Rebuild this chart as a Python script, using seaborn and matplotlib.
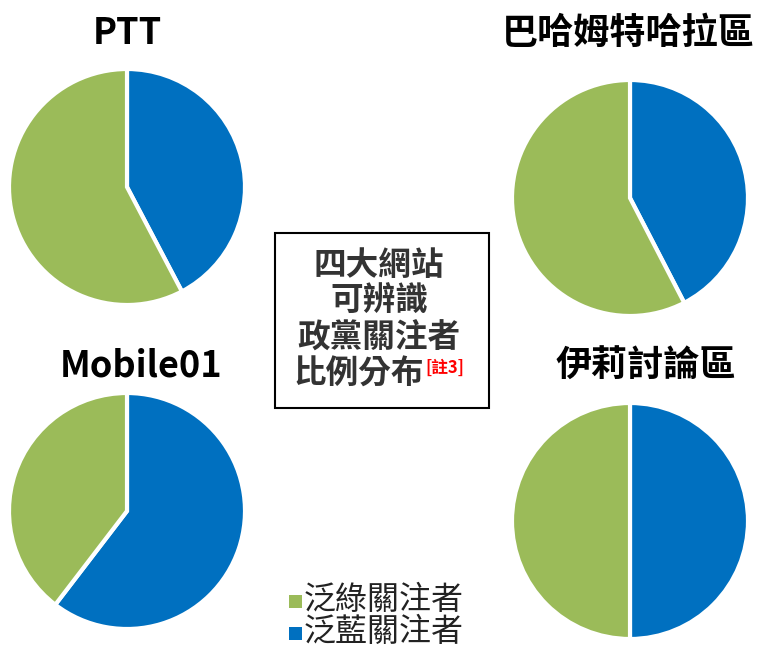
import matplotlib
matplotlib.use("Agg")
import matplotlib.pyplot as plt
import seaborn as sns
from matplotlib.patches import Rectangle

sns.set_theme(style="white")
plt.rcParams['font.family'] = ['Noto Sans CJK TC', 'DejaVu Sans']

sites = ["PTT", "巴哈姆特哈拉區", "Mobile01", "伊莉討論區"]
blue_share = [42.3, 42.4, 60.4, 50.0]
green_share = [57.7, 57.6, 39.6, 50.0]
series_labels = ["泛綠關注者", "泛藍關注者"]
center_lines = ["四大網站", "可辨識", "政黨關注者", "比例分布"]
note_label = "[註3]"

palette = sns.color_palette(["#9BBB59", "#0070C0"])
green, blue = palette[0], palette[1]

W, H = 759, 649
fig = plt.figure(figsize=(W / 100, H / 100), dpi=100)

# pie centers (px) and radius
centers = [(127, 187), (630, 198), (127, 511), (630, 521)]
R = 118
title_pos = [(127, 33), (628, 33), (141, 366), (646, 366)]

for i, site in enumerate(sites):
    cx, cy = centers[i]
    ax = fig.add_axes([(cx - R) / W, 1 - (cy + R) / H, 2 * R / W, 2 * R / H])
    ax.pie([blue_share[i], green_share[i]], colors=[blue, green], startangle=90,
           counterclock=False, radius=1.0,
           wedgeprops=dict(edgecolor="white", linewidth=3))
    ax.set_xlim(-1.0, 1.0)
    ax.set_ylim(-1.0, 1.0)
    ax.set_aspect("equal")
    ax.axis("off")
    tx, ty = title_pos[i]
    fig.text(tx / W, 1 - ty / H, site, ha="center", va="center",
             fontsize=26, fontweight="bold", color="black")

# center box
bx0, by0, bx1, by1 = 275, 233, 489, 408
fig.patches.append(Rectangle((bx0 / W, 1 - by1 / H), (bx1 - bx0) / W, (by1 - by0) / H,
                             transform=fig.transFigure, facecolor="white",
                             edgecolor="black", linewidth=1.5))
line_y = [265, 301, 338, 374]
for j, line in enumerate(center_lines):
    x = 379 if j < 3 else 359
    fig.text(x / W, 1 - line_y[j] / H, line, ha="center", va="center",
             fontsize=23.5, fontweight="bold", color="#333333")
fig.text(425 / W, 1 - 368 / H, note_label, ha="left", va="center",
         fontsize=12, fontweight="bold", color="#FF0000")

# legend
leg_y = [600, 632]
leg_colors = [green, blue]
for k, lab in enumerate(series_labels):
    y = leg_y[k]
    fig.patches.append(Rectangle((289 / W, 1 - (y + 8) / H), 13 / W, 13 / H,
                                 transform=fig.transFigure, facecolor=leg_colors[k],
                                 edgecolor="none"))
    fig.text(304 / W, 1 - y / H, lab, ha="left", va="center",
             fontsize=23, color="#222222")

fig.savefig("out.png", dpi=100)
